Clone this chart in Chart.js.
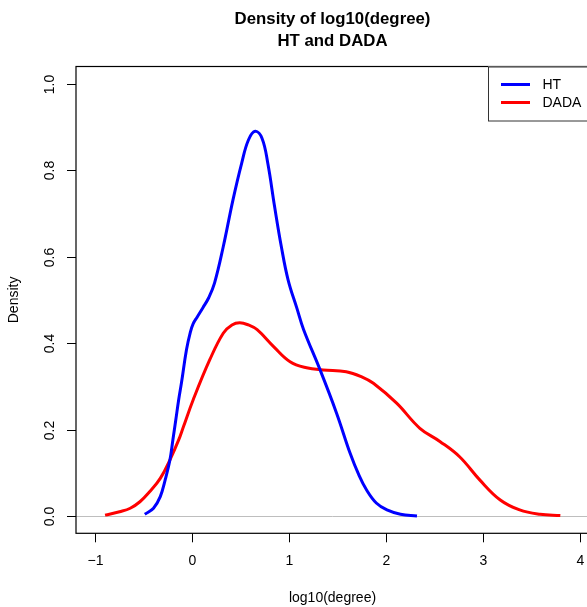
<!DOCTYPE html>
<html>
<head>
<meta charset="utf-8">
<script src="https://cdn.jsdelivr.net/npm/chart.js@4/dist/chart.umd.min.js"></script>
<style>
html,body{margin:0;padding:0;overflow:hidden;background:#fff;}
#wrap{position:absolute;left:0;top:0;width:600px;height:607px;}
</style>
</head>
<body>
<div id="wrap"><canvas id="c" width="600" height="607"></canvas></div>
<script>
// ---- data ----
const titleLines = ['Density of log10(degree)', 'HT and DADA'];
const xLabel = 'log10(degree)';
const yLabel = 'Density';
const xTicks = [-1, 0, 1, 2, 3, 4];
const yTicks = [0.0, 0.2, 0.4, 0.6, 0.8, 1.0];
const seriesNames = ['HT', 'DADA'];
const seriesColors = ['#0000ff', '#ff0000'];

const htX = [-0.49,-0.40,-0.33,-0.28,-0.23,-0.20,-0.17,-0.14,-0.11,-0.06,-0.02,0.01,0.05,0.11,0.17,0.23,0.32,0.42,0.51,0.58,0.65,0.72,0.78,0.85,0.92,0.99,1.08,1.15,1.32,1.49,1.63,1.72,1.80,1.90,2.01,2.15,2.32];
const htY = [0.004,0.018,0.045,0.083,0.130,0.176,0.222,0.269,0.310,0.384,0.425,0.445,0.460,0.482,0.505,0.539,0.623,0.731,0.816,0.870,0.890,0.874,0.816,0.716,0.623,0.546,0.481,0.431,0.338,0.238,0.145,0.095,0.060,0.030,0.014,0.004,0.0];

const dadaX = [-0.90,-0.75,-0.64,-0.54,-0.44,-0.33,-0.23,-0.14,-0.09,0.01,0.18,0.32,0.41,0.49,0.58,0.67,0.84,1.01,1.18,1.35,1.59,1.75,1.87,2.11,2.35,2.56,2.76,2.97,3.18,3.38,3.59,3.80];
const dadaY = [0.002,0.010,0.018,0.033,0.056,0.087,0.130,0.176,0.207,0.269,0.361,0.423,0.442,0.447,0.442,0.431,0.392,0.357,0.343,0.338,0.334,0.322,0.307,0.261,0.203,0.172,0.137,0.083,0.037,0.014,0.004,0.001];

const xMin = -1.2, xMax = 4.1;
const yMin = -0.04, yMax = 1.04;

const toPts = (xs, ys) => xs.map((x, i) => ({x: x, y: ys[i]}));

const FONT = '"Liberation Sans", Arial, Helvetica, sans-serif';

const rPlot = {
  id: 'rPlot',
  beforeDatasetsDraw(chart) {
    const ctx = chart.ctx, a = chart.chartArea, ys = chart.scales.y;
    const y0 = Math.round(ys.getPixelForValue(0)) + 0.5;
    ctx.save();
    ctx.strokeStyle = '#bebebe';
    ctx.lineWidth = 1;
    ctx.beginPath();
    ctx.moveTo(a.left, y0);
    ctx.lineTo(a.right, y0);
    ctx.stroke();
    ctx.restore();
  },
  afterDraw(chart) {
    const ctx = chart.ctx, a = chart.chartArea;
    const xs = chart.scales.x, ys = chart.scales.y;
    ctx.save();
    // box
    ctx.strokeStyle = '#000';
    ctx.lineWidth = 1.2;
    ctx.strokeRect(a.left, a.top, a.right - a.left, a.bottom - a.top);
    // x ticks
    ctx.lineWidth = 1;
    ctx.fillStyle = '#000';
    ctx.font = '14px ' + FONT;
    ctx.textAlign = 'center';
    ctx.textBaseline = 'middle';
    xTicks.forEach(v => {
      const px = Math.round(xs.getPixelForValue(v)) + 0.5;
      ctx.beginPath();
      ctx.moveTo(px, a.bottom);
      ctx.lineTo(px, a.bottom + 9);
      ctx.stroke();
      ctx.fillText(v < 0 ? '\u2212' + Math.abs(v) : String(v), px, 561.5);
    });
    // y ticks
    yTicks.forEach(v => {
      const py = Math.round(ys.getPixelForValue(v)) + 0.5;
      ctx.beginPath();
      ctx.moveTo(a.left, py);
      ctx.lineTo(a.left - 9, py);
      ctx.stroke();
      ctx.save();
      ctx.translate(50, py);
      ctx.rotate(-Math.PI / 2);
      ctx.fillText(v.toFixed(1), 0, 0);
      ctx.restore();
    });
    // axis labels
    const cx = 332.5;
    ctx.fillText(xLabel, cx, 598);
    ctx.save();
    ctx.translate(14, (a.top + a.bottom) / 2);
    ctx.rotate(-Math.PI / 2);
    ctx.fillText(yLabel, 0, 0);
    ctx.restore();
    // title
    ctx.font = 'bold 16.8px ' + FONT;
    ctx.fillText(titleLines[0], cx, 19);
    ctx.fillText(titleLines[1], cx, 41);
    // legend
    const lx0 = 488, ly0 = a.top, lw = a.right - lx0, lh = 54;
    ctx.fillStyle = '#fff';
    ctx.fillRect(lx0, ly0, lw, lh);
    ctx.strokeStyle = '#333';
    ctx.lineWidth = 1;
    ctx.strokeRect(lx0 + 0.5, ly0 + 0.5, lw, lh);
    ctx.font = '14px ' + FONT;
    ctx.textAlign = 'left';
    chart.data.datasets.forEach((ds, i) => {
      const yy = 84.5 + i * 18;
      ctx.strokeStyle = ds.borderColor;
      ctx.lineWidth = 3;
      ctx.beginPath();
      ctx.moveTo(501, yy);
      ctx.lineTo(530, yy);
      ctx.stroke();
      ctx.fillStyle = '#000';
      ctx.fillText(ds.label, 542.5, yy + 0.5);
    });
    ctx.restore();
  }
};

new Chart(document.getElementById('c'), {
  type: 'line',
  data: {
    datasets: [
      {label: seriesNames[0], data: toPts(htX, htY), borderColor: seriesColors[0], borderWidth: 3, pointRadius: 0, fill: false, tension: 0.4},
      {label: seriesNames[1], data: toPts(dadaX, dadaY), borderColor: seriesColors[1], borderWidth: 3, pointRadius: 0, fill: false, tension: 0.4}
    ]
  },
  options: {
    responsive: false,
    animation: false,
    devicePixelRatio: 1,
    layout: {padding: {left: 76, top: 66.5, right: 600 - 589.4, bottom: 607 - 533.3}},
    scales: {
      x: {type: 'linear', min: xMin, max: xMax, display: false},
      y: {type: 'linear', min: yMin, max: yMax, display: false}
    },
    plugins: {legend: {display: false}, title: {display: false}, tooltip: {enabled: false}}
  },
  plugins: [rPlot]
});
</script>
</body>
</html>
